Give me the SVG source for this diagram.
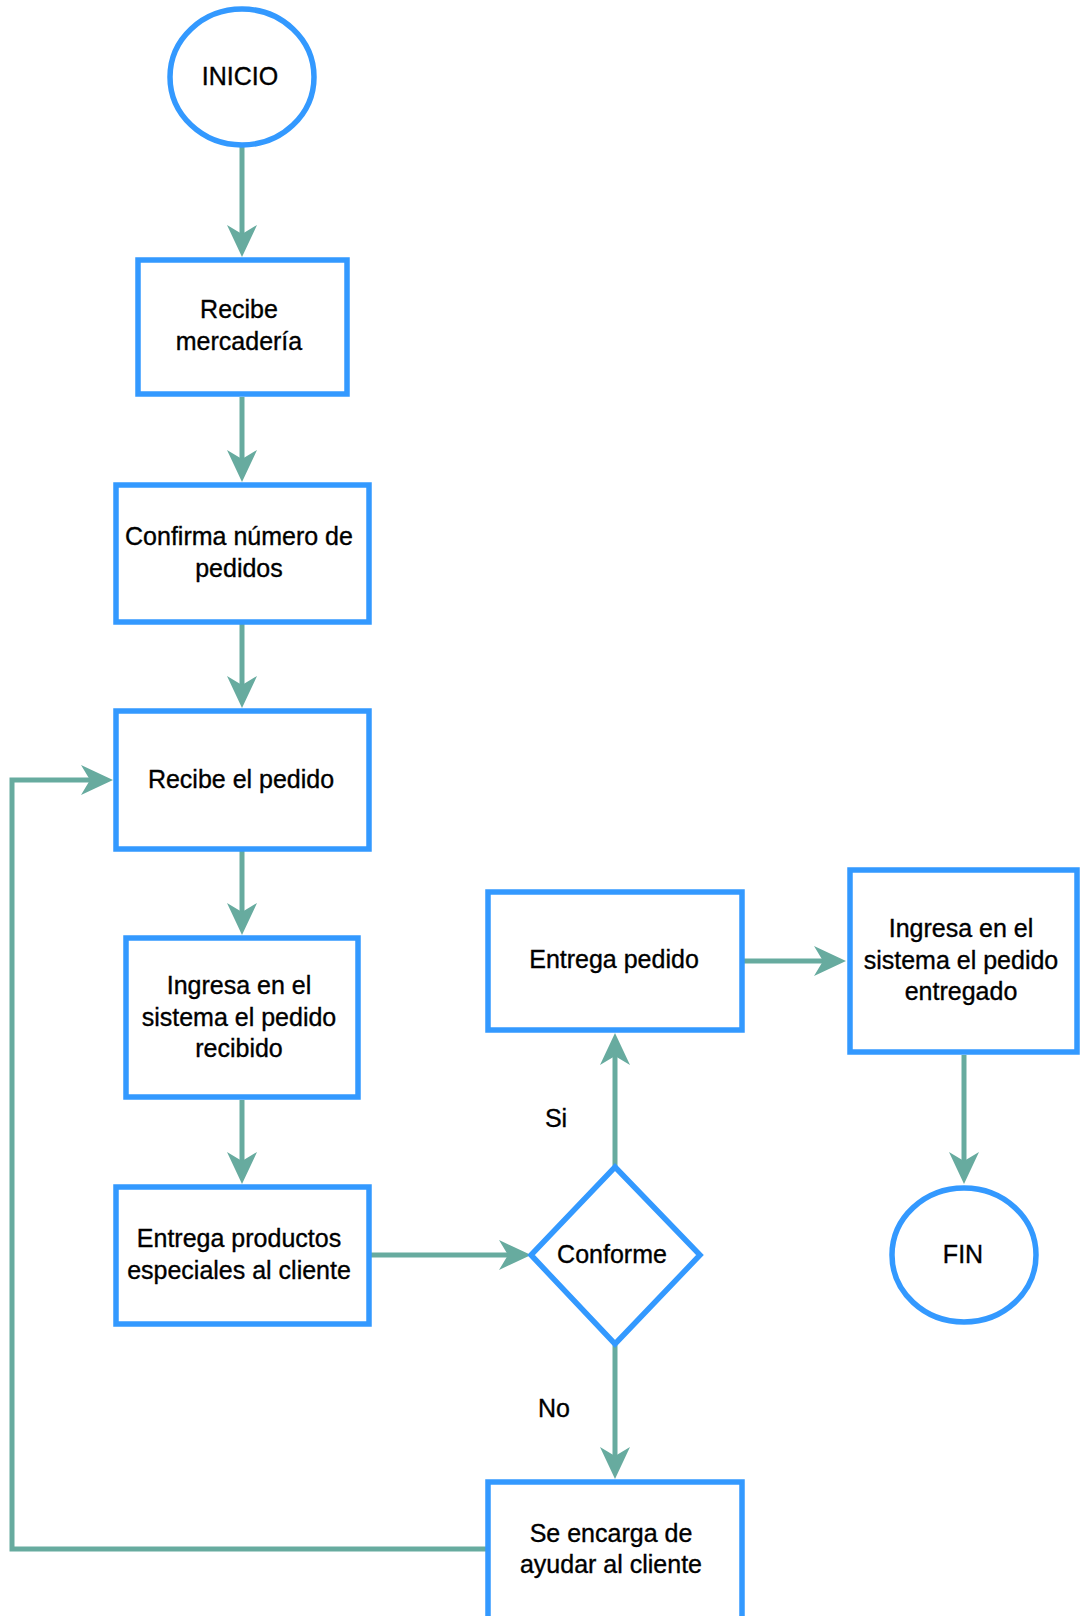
<svg xmlns="http://www.w3.org/2000/svg" width="1080" height="1616" viewBox="0 0 1080 1616">
<style>
.n{fill:#fff;stroke:#3399ff;stroke-width:5.5}
.c{fill:none;stroke:#67ab9f;stroke-width:5}
text{font-family:"Liberation Sans",Arial,Helvetica,sans-serif;font-size:25px;fill:#000;stroke:#000;stroke-width:0.35;text-anchor:middle}
</style>
<defs>
<marker id="ah" markerUnits="userSpaceOnUse" markerWidth="34" markerHeight="32" refX="9" refY="15" orient="auto" overflow="visible">
<path d="M0,0 L32,15 L0,30 L9,15 Z" fill="#67ab9f"/>
</marker>
</defs>
<rect width="1080" height="1616" fill="#fff"/>
<g id="connectors">
<path class="c" d="M242,145 V234" marker-end="url(#ah)"/>
<path class="c" d="M242,397 V459" marker-end="url(#ah)"/>
<path class="c" d="M242,624 V685" marker-end="url(#ah)"/>
<path class="c" d="M242,851 V912" marker-end="url(#ah)"/>
<path class="c" d="M242,1100 V1161" marker-end="url(#ah)"/>
<path class="c" d="M371,1255 H508" marker-end="url(#ah)"/>
<path class="c" d="M615,1166 V1056" marker-end="url(#ah)"/>
<path class="c" d="M615,1345 V1456" marker-end="url(#ah)"/>
<path class="c" d="M744,961 H823" marker-end="url(#ah)"/>
<path class="c" d="M964,1055 V1161" marker-end="url(#ah)"/>
<path class="c" d="M486,1549 H12 V780 H90" marker-end="url(#ah)"/>
<text x="556" y="1127">Si</text>
<text x="554" y="1417">No</text>
</g>
<g id="inicio">
<ellipse class="n" cx="242" cy="77" rx="72" ry="68"/>
<text x="240" y="85">INICIO</text>
</g>
<g id="recibe-mercaderia">
<rect class="n" x="138" y="260" width="209" height="134"/>
<text x="239" y="318">Recibe</text>
<text x="239" y="350">mercadería</text>
</g>
<g id="confirma">
<rect class="n" x="116" y="485" width="253" height="137"/>
<text x="239" y="545">Confirma número de</text>
<text x="239" y="577">pedidos</text>
</g>
<g id="recibe-pedido">
<rect class="n" x="116" y="711" width="253" height="138"/>
<text x="241" y="788">Recibe el pedido</text>
</g>
<g id="ingresa-recibido">
<rect class="n" x="126" y="938" width="232" height="159"/>
<text x="239" y="994">Ingresa en el</text>
<text x="239" y="1026">sistema el pedido</text>
<text x="239" y="1057">recibido</text>
</g>
<g id="entrega-productos">
<rect class="n" x="116" y="1187" width="253" height="137"/>
<text x="239" y="1247">Entrega productos</text>
<text x="239" y="1279">especiales al cliente</text>
</g>
<g id="conforme">
<polygon class="n" points="615,1167 700,1255 615,1344 531,1255"/>
<text x="612" y="1263">Conforme</text>
</g>
<g id="entrega-pedido">
<rect class="n" x="488" y="892" width="254" height="138"/>
<text x="614" y="968">Entrega pedido</text>
</g>
<g id="ingresa-entregado">
<rect class="n" x="850" y="870" width="227" height="182"/>
<text x="961" y="937">Ingresa en el</text>
<text x="961" y="969">sistema el pedido</text>
<text x="961" y="1000">entregado</text>
</g>
<g id="fin">
<ellipse class="n" cx="964" cy="1255" rx="72" ry="67"/>
<text x="963" y="1263">FIN</text>
</g>
<g id="se-encarga">
<rect class="n" x="488" y="1482" width="254" height="150"/>
<text x="611" y="1542">Se encarga de</text>
<text x="611" y="1573">ayudar al cliente</text>
</g>
</svg>
